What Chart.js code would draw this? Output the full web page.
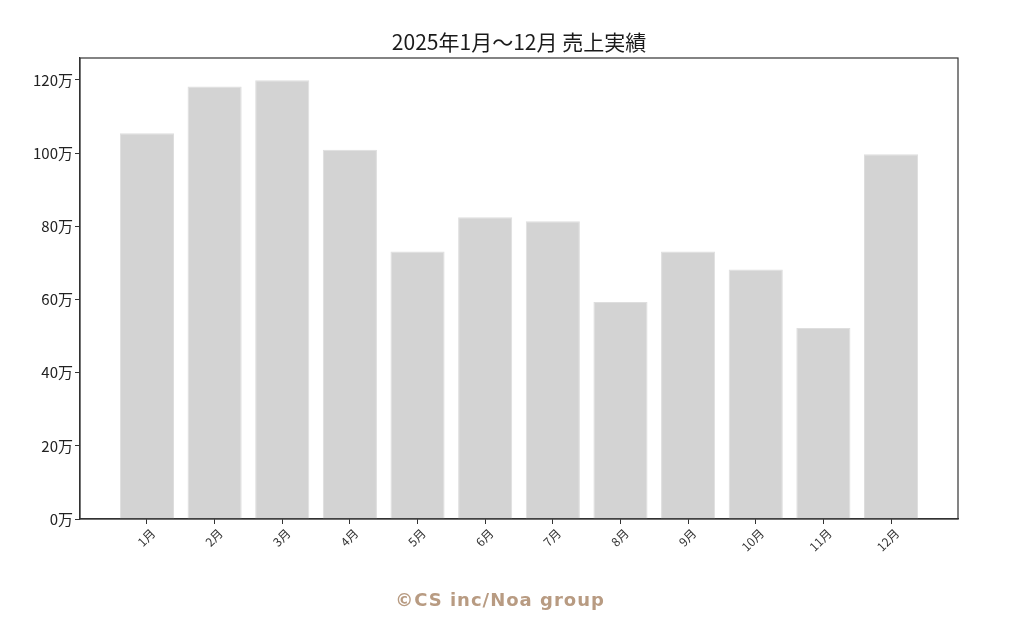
<!DOCTYPE html>
<html>
<head>
<meta charset="utf-8">
<script src="https://cdn.jsdelivr.net/npm/chart.js@4/dist/chart.umd.min.js"></script>
<style>
  html, body { margin: 0; padding: 0; background: #fff; }
  #wrap { position: relative; width: 1024px; height: 633px; }
</style>
</head>
<body>
<div id="wrap"><canvas id="salesChart" width="1024" height="633"></canvas></div>
<script>
// 月別売上（単位：万円）
const months = ['1月', '2月', '3月', '4月', '5月', '6月', '7月', '8月', '9月', '10月', '11月', '12月'];
const sales = [105.4, 118.2, 119.9, 100.9, 73.1, 82.5, 81.4, 59.3, 73.1, 68.2, 52.2, 99.7];
const yTicks = [0, 20, 40, 60, 80, 100, 120];
const titleText = '2025年1月～12月 売上実績';
const creditText = '©CS inc/Noa group';

const JP_FONT = '"Noto Sans CJK JP", "Noto Sans", sans-serif';

// matplotlib風に四辺の枠線を描く + タイトルはプロット中央に
const frameBox = {
    id: 'frameBox',
    afterDraw(chart) {
        const { ctx, chartArea: a } = chart;
        ctx.save();
        ctx.strokeStyle = '#333';
        ctx.lineWidth = 1.2;
        ctx.strokeRect(a.left, a.top, a.right - a.left, a.bottom - a.top);

        ctx.font = `21px ${JP_FONT}`;
        ctx.fillStyle = '#1a1a1a';
        ctx.textAlign = 'center';
        ctx.textBaseline = 'middle';
        ctx.fillText(titleText, (a.left + a.right) / 2, 42);
        ctx.restore();
    }
};

const credit = {
    id: 'credit',
    afterDraw(chart) {
        const { ctx } = chart;
        ctx.save();
        ctx.font = 'bold 18px "DejaVu Sans", sans-serif';
        ctx.letterSpacing = '1px';
        ctx.fillStyle = '#b89b82';
        ctx.textAlign = 'center';
        ctx.textBaseline = 'middle';
        ctx.fillText(creditText, 500, 601);
        ctx.restore();
    }
};

const ctx = document.getElementById('salesChart').getContext('2d');
new Chart(ctx, {
    type: 'bar',
    data: {
        datasets: [{
            data: sales.map((v, i) => ({ x: i, y: v })),
            backgroundColor: '#d3d3d3',
            borderColor: '#dedede',
            borderWidth: 1,
            barPercentage: 0.8,
            categoryPercentage: 1.0
        }]
    },
    options: {
        responsive: false,
        animation: false,
        layout: { padding: { left: 0, right: 66, top: 58, bottom: 54 } },
        plugins: {
            legend: { display: false },
            tooltip: { enabled: false },
            title: { display: false }
        },
        scales: {
            x: {
                type: 'linear',
                min: -0.99,
                max: 11.99,
                offset: false,
                afterBuildTicks: (s) => { s.ticks = months.map((m, i) => ({ value: i })); },
                afterFit: (s) => { s.height = 60; },
                grid: { offset: false, drawOnChartArea: false, tickLength: 5, color: '#333' },
                border: { color: '#333', width: 1.2 },
                ticks: {
                    autoSkip: false,
                    minRotation: 45,
                    maxRotation: 45,
                    labelOffset: 6,
                    padding: 2,
                    color: '#333',
                    font: { family: JP_FONT, size: 12 },
                    callback: (v) => months[v] ?? ''
                }
            },
            y: {
                min: 0,
                max: 126,
                afterBuildTicks: (s) => { s.ticks = yTicks.map(v => ({ value: v })); },
                afterFit: (s) => { s.width = 80; },
                grid: { drawOnChartArea: false, tickLength: 5, color: '#333' },
                border: { color: '#333', width: 1.2 },
                ticks: {
                    padding: 2,
                    color: '#222',
                    font: { family: JP_FONT, size: 15 },
                    callback: (v) => `${v}万`
                }
            }
        }
    },
    plugins: [frameBox, credit]
});
</script>
</body>
</html>
